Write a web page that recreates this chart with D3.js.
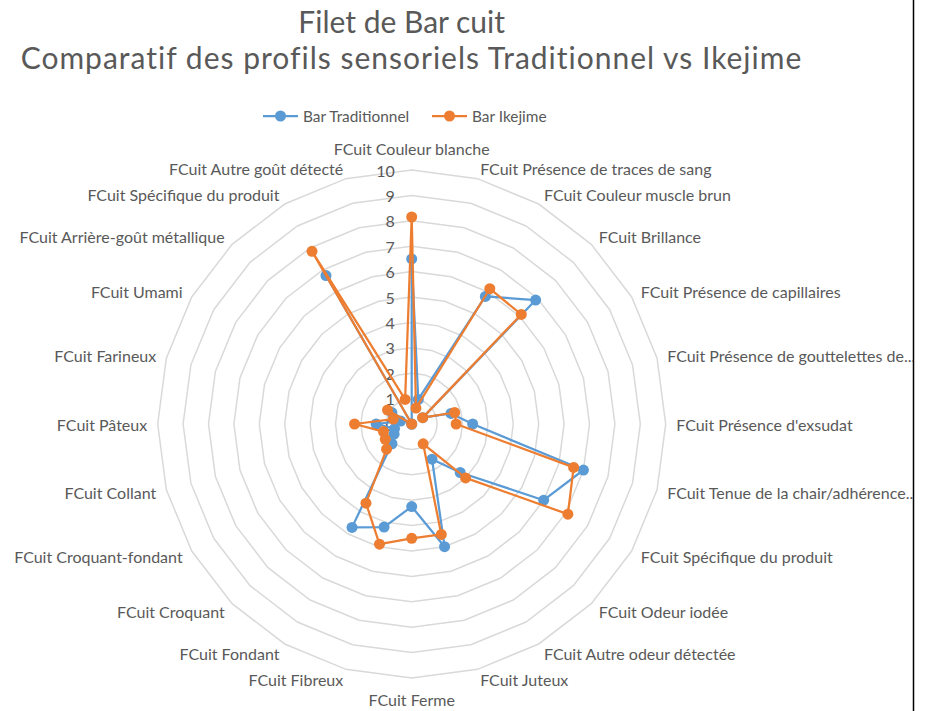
<!DOCTYPE html>
<html><head><meta charset="utf-8">
<script src="https://cdn.jsdelivr.net/npm/d3@7"></script>
<style>body{margin:0;background:#fff}</style>
</head><body>
<svg id="chart" width="932" height="711"></svg>
<script>
const categories = [
  "FCuit Couleur blanche",
  "FCuit Présence de traces de sang",
  "FCuit Couleur muscle brun",
  "FCuit Brillance",
  "FCuit Présence de capillaires",
  "FCuit Présence de gouttelettes de...",
  "FCuit Présence d'exsudat",
  "FCuit Tenue de la chair/adhérence...",
  "FCuit Spécifique du produit",
  "FCuit Odeur iodée",
  "FCuit Autre odeur détectée",
  "FCuit Juteux",
  "FCuit Ferme",
  "FCuit Fibreux",
  "FCuit Fondant",
  "FCuit Croquant",
  "FCuit Croquant-fondant",
  "FCuit Collant",
  "FCuit Pâteux",
  "FCuit Farineux",
  "FCuit Umami",
  "FCuit Arrière-goût métallique",
  "FCuit Spécifique du produit",
  "FCuit Autre goût détecté"
];
const traditionnel = [6.5, 1.0, 5.8, 6.9, 0.5, 1.6, 2.4, 7.0, 6.0, 2.7, 1.6, 5.0, 3.25, 4.2, 4.7, 1.1, 0.8, 0.7, 1.4, 0.45, 0.9, 0, 6.75, 0];
const ikejime      = [8.15, 0.65, 6.15, 6.1, 0.5, 1.75, 1.75, 6.6, 7.1, 3.0, 0.9, 4.5, 4.5, 4.9, 3.6, 1.4, 1.2, 1.15, 2.25, 0.75, 1.1, 0, 7.85, 1.0];
const tickValues = [0,1,2,3,4,5,6,7,8,9,10];
const seriesNames = ["Bar Traditionnel", "Bar Ikejime"];
const seriesColors = ["#5B9BD5", "#ED7D31"];
const titleLines = ["Filet de Bar cuit", "Comparatif des profils sensoriels Traditionnel vs Ikejime"];

const W = 932, H = 711, cx = 411.7, cy = 424, R = 254;
const FONT = "Lato, 'Open Sans', sans-serif";
const TXT = "#595959";

const svg = d3.select("#chart");
svg.append("rect").attr("width", W).attr("height", H).attr("fill", "#fff");
svg.append("defs").append("clipPath").attr("id", "clip")
  .append("rect").attr("x", 0).attr("y", 0).attr("width", 913).attr("height", H);

const root = svg.append("g").attr("clip-path", "url(#clip)");
const g = root.append("g").attr("transform", `translate(${cx},${cy})`);

const n = categories.length;
const angle = d3.scaleLinear().domain([0, n]).range([0, 2 * Math.PI]);
const r = d3.scaleLinear().domain([0, 10]).range([0, R]);
const idx = d3.range(n);

// grid rings (polygons)
const ringLine = d3.lineRadial().angle(i => angle(i)).curve(d3.curveLinearClosed);
tickValues.filter(v => v > 0).forEach(v => {
  g.append("path")
    .attr("d", ringLine.radius(() => r(v))(idx))
    .attr("fill", "none").attr("stroke", "#D9D9D9").attr("stroke-width", 1.5);
});

// value tick labels
g.selectAll(".tick").data(tickValues).join("text")
  .attr("x", -17).attr("y", v => -r(v))
  .attr("text-anchor", "end").attr("dominant-baseline", "central")
  .attr("font-family", FONT).attr("font-size", 16).attr("fill", TXT)
  .text(v => v);

// category labels
const off = 10.5;
g.selectAll(".cat").data(categories).join("text")
  .each(function(c, i) {
    const a = angle(i), s = Math.sin(a), co = Math.cos(a);
    let x = (R + off) * s, y = -(R + off) * co, anchor;
    if (Math.abs(s) < 1e-6) { anchor = "middle"; y = -(R + 21.5) * co; }
    else anchor = s > 0 ? "start" : "end";
    d3.select(this).attr("x", x).attr("y", y).attr("text-anchor", anchor);
  })
  .attr("dominant-baseline", "central")
  .attr("font-family", FONT).attr("font-size", 16).attr("fill", TXT)
  .text(c => c);

// series
const seriesData = [traditionnel, ikejime];
seriesData.forEach((vals, k) => {
  const line = d3.lineRadial().angle((d, i) => angle(i)).radius(d => r(d)).curve(d3.curveLinearClosed);
  g.append("path").attr("d", line(vals))
    .attr("fill", "none").attr("stroke", seriesColors[k]).attr("stroke-width", 2.25)
    .attr("stroke-linejoin", "round");
  g.selectAll(".m" + k).data(vals).join("circle")
    .attr("cx", (d, i) => r(d) * Math.sin(angle(i)))
    .attr("cy", (d, i) => -r(d) * Math.cos(angle(i)))
    .attr("r", 5.5).attr("fill", seriesColors[k]);
});

// title
const titleX = [401.7, 411.5], titleY = [33, 69], titleSpacing = [0, 1];
titleLines.forEach((t, i) => {
  svg.append("text").attr("x", titleX[i]).attr("y", titleY[i])
    .attr("text-anchor", "middle").attr("font-family", FONT).attr("font-size", 30)
    .attr("letter-spacing", titleSpacing[i])
    .attr("fill", TXT).text(t);
});

// legend
const legX = [263, 432];
seriesNames.forEach((nm, k) => {
  const lg = svg.append("g").attr("transform", `translate(${legX[k]},116)`);
  lg.append("line").attr("x1", 0).attr("x2", 35).attr("stroke", seriesColors[k]).attr("stroke-width", 2.25);
  lg.append("circle").attr("cx", 17.5).attr("r", 5.5).attr("fill", seriesColors[k]);
  lg.append("text").attr("x", 40).attr("dominant-baseline", "central")
    .attr("font-family", FONT).attr("font-size", 15.4).attr("fill", TXT).text(nm);
});

// right border
svg.append("line").attr("x1", 913.5).attr("x2", 913.5).attr("y1", 0).attr("y2", H)
  .attr("stroke", "#000").attr("stroke-width", 1.5);
</script>
</body></html>
